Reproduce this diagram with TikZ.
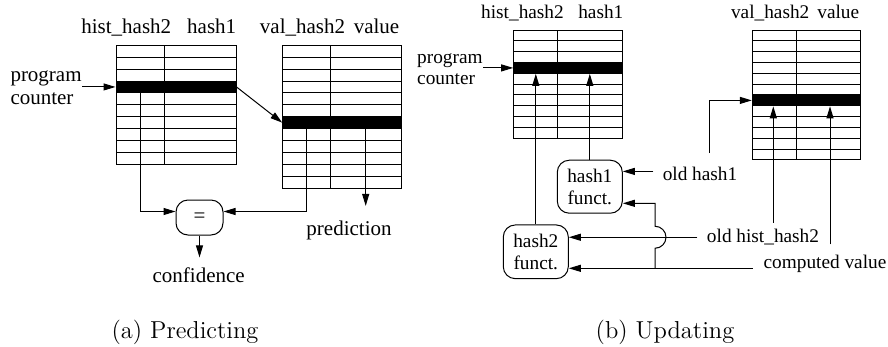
\documentclass[tikz,border=0pt]{standalone}
\usepackage{fontspec}
\newfontfamily\tms{Liberation Serif}
\newfontfamily\capfont{lmroman12-regular.otf}
\usetikzlibrary{arrows.meta,calc}

% table: name of filled row, left, top, width, rows, row height, column, filled row
\newcommand\hashtab[8]{
  \draw (#2,#3) rectangle ({#2+#4},{#3+#5*#6});
  \foreach \r in {1,...,#5} \draw (#2,{#3+\r*#6}) -- ++(#4,0);
  \draw ({#2+#7},#3) -- ++(0,{#5*#6});
  \node[bar, minimum width=#4pt, minimum height=#6pt] (#1) at ({#2+#4/2},{#3+(#8-0.5)*#6}) {};
}

\tikzset{
  lbla/.style={inner sep=0, font=\tms\fontsize{21}{23.3}\selectfont},
  lblb/.style={inner sep=0, font=\tms\fontsize{19.3}{21.3}\selectfont},
  bar/.style={fill=black, inner sep=0},
  fnbox/.style={draw, rounded corners=12pt, inner sep=0, align=center,
    font=\tms\fontsize{19.3}{21.6}\selectfont},
  capt/.style={inner sep=0, font=\capfont\fontsize{24.5}{29}\selectfont},
}

\begin{document}
\begin{tikzpicture}[x=1pt, y=-1pt, line width=1pt, >={Triangle[length=12pt,width=7pt]}]
    \useasboundingbox (0,0) rectangle (888,346);

    %%% (a) predicting
    % tables
    \hashtab{abar1}{116}{45.3}{120}{10}{11.9}{48}{4}
    \hashtab{abar2}{282.7}{45.3}{118.6}{12}{11.9}{47.3}{7}
    \node[lbla, anchor=base] (ahh2) at (126.3,33.3) {hist\_hash2};
    \node[lbla, anchor=base] (ah1) at (211.7,33.3) {hash1};
    \node[lbla, anchor=base] (avh2) at (302.5,33.3) {val\_hash2};
    \node[lbla, anchor=base] (aval) at (376.5,33.3) {value};

    % pc to first table, first to second
    \node[lbla, align=left, anchor=base west] (pca) at (10,104.3) {program\\counter};
    \draw [->] (pca.east |- abar1.west) -- (abar1.west);
    \draw [->] (abar1.east) -- (abar2.west);

    % compare
    \node[fnbox, font=\tms\fontsize{21}{23}\selectfont, minimum width=47pt, minimum height=35pt] (eq) at (199.5,217.5) {=};
    \coordinate (alcol) at ([xshift=-36pt]abar1.south);
    \coordinate (arcol) at ([xshift=-36pt]abar2.south);
    \draw [->] (alcol) |- ([yshift=6pt]eq.west);
    \draw [->] (arcol) |- ([yshift=6pt]eq.east);
    \node[lbla, anchor=base] (conf) at (198.7,282.7) {confidence};
    \draw [->, shorten >=10pt] (eq.south) -- (eq.south |- conf.north);

    % value out
    \node[lbla, anchor=base] (pred) at (349,235) {prediction};
    \coordinate (apcol) at ([xshift=23.7pt]abar2.south);
    \draw [->, shorten >=14pt] (apcol) -- (apcol |- pred.north);

    \node[capt] (capa) at (185,332) {(a) Predicting};

    %%% (b) updating
    % tables
    \hashtab{bbar1}{513.7}{30}{108.6}{10}{10.83}{43.6}{4}
    \hashtab{bbar2}{752.3}{30}{108.4}{12}{10.83}{43.7}{7}
    \node[lblb, anchor=base] (bhh2) at (522.5,18.3) {hist\_hash2};
    \node[lblb, anchor=base] (bh1) at (600.8,18.3) {hash1};
    \node[lblb, anchor=base] (bvh2) at (770.2,18.3) {val\_hash2};
    \node[lblb, anchor=base] (bval) at (838.3,18.3) {value};

    \node[lblb, align=left, anchor=base west] (pcb) at (416.7,84.3) {program\\counter};
    \draw [->] (pcb.east |- bbar1.west) -- (bbar1.west);

    % hash functions
    \node[fnbox, minimum width=65pt, minimum height=53pt] (hash1f) at (589.8,186.7) {hash1\\funct.};
    \node[fnbox, minimum width=65pt, minimum height=53.7pt] (hash2f) at (535.8,251.8) {hash2\\funct.};
    \draw [->] (hash1f.north) -- (hash1f.north |- bbar1.south);
    \draw [->] (hash2f.north) -- (hash2f.north |- bbar1.south);

    % old hash1
    \node[lblb, anchor=base] (oh1) at (700,180) {old hash1};
    \draw [->] ([xshift=-9pt,yshift=2pt]oh1.west) -- ([yshift=2pt]oh1.west -| hash1f.east);
    \draw [->] ([xshift=9pt,yshift=13pt]oh1.north) |- (bbar2.west);

    % old hist_hash2
    \node[lblb, anchor=base] (ohh2) at (763,242.7) {old hist\_hash2};
    \coordinate (hhin) at ([xshift=-9pt]ohh2.west);
    \draw [->] (hhin) -- (hhin -| hash2f.east);
    \coordinate (hhcol) at ([xshift=10.3pt,yshift=6pt]ohh2.north);
    \draw [->] (hhcol) -- (hhcol |- bbar2.south);

    % computed value
    \node[lblb, anchor=base] (cv) at (825,268.3) {computed value};
    \coordinate (cvin) at ([xshift=-10.6pt]cv.base west);
    \draw [->] (cvin) -- (cvin -| hash2f.east);
    \coordinate (cvcol) at ([xshift=5pt,yshift=10pt]cv.north);
    \draw [->] (cvcol) -- (cvcol |- bbar2.south);

    % value into hash1, jumping over
    \coordinate (jx) at (655,0);
    \draw [->] (jx |- cvin) -- ($(jx |- hhin)+(0,11)$) arc[start angle=90, end angle=-90, radius=11]
        |- ([yshift=-16.6pt]hash1f.east);

    \node[capt] (capb) at (665,332) {(b) Updating};
\end{tikzpicture}
\end{document}
